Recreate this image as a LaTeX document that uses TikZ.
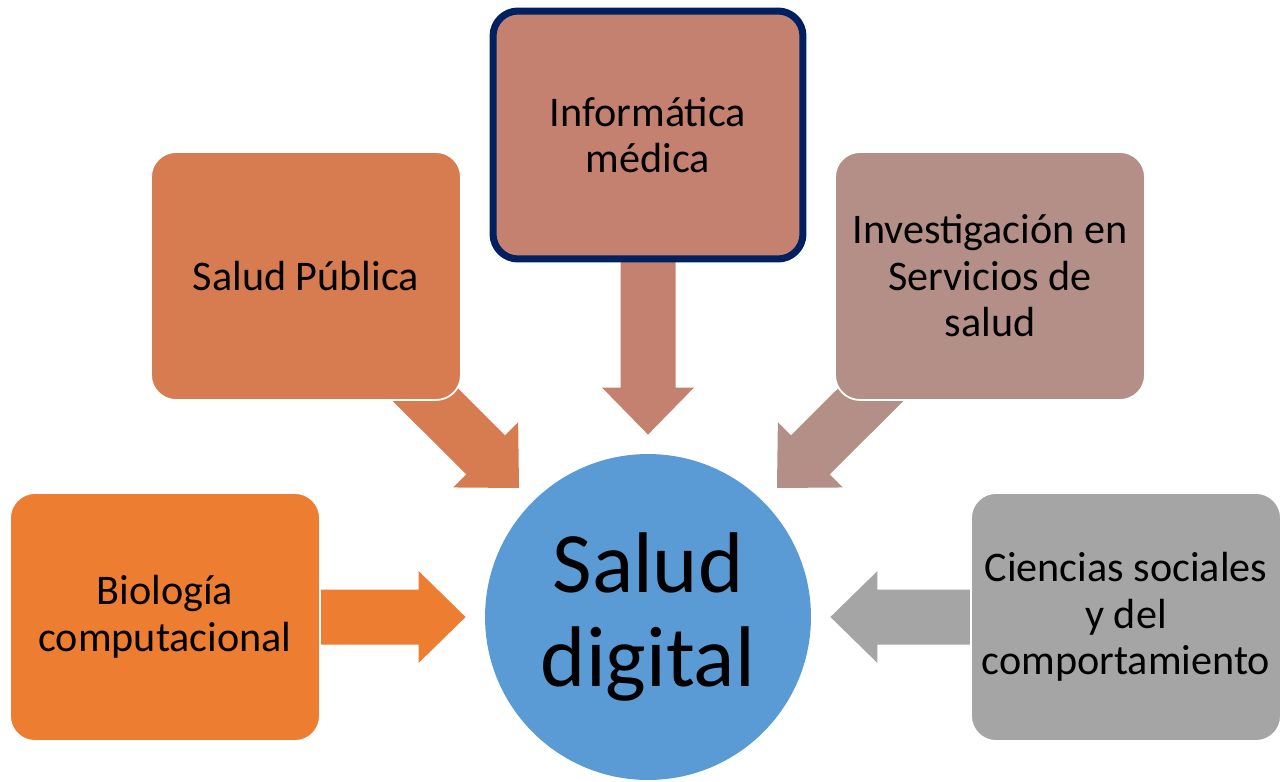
\documentclass[tikz,border=0pt]{standalone}
\usepackage{fontspec}
\setmainfont{Carlito}
\usetikzlibrary{calc,backgrounds}

\definecolor{bioorange}{HTML}{ED7D31}
\definecolor{puborange}{HTML}{D77B51}
\definecolor{infrose}{HTML}{C4816F}
\definecolor{invtaupe}{HTML}{B48F87}
\definecolor{socgray}{HTML}{A5A5A5}
\definecolor{digblue}{HTML}{5B9BD5}
\definecolor{navyline}{HTML}{002060}

% block arrow: colour, tail, tip
\newcommand{\blockarrow}[3]{%
  \coordinate (hb) at ($(#3)!0.94cm!(#2)$);
  \fill[#1] ($(#2)!0.55cm!90:(#3)$) -- ($(hb)!0.55cm!90:(#3)$) -- ($(hb)!0.92cm!90:(#3)$) -- (#3)
    -- ($(hb)!0.92cm!-90:(#3)$) -- ($(hb)!0.55cm!-90:(#3)$) -- ($(#2)!0.55cm!-90:(#3)$) -- cycle;}

\begin{document}
\begin{tikzpicture}[x=0.02cm,y=-0.02cm,
	area/.style={rectangle,rounded corners=0.5cm,minimum width=6.2cm,minimum height=4.96cm,
		draw=white,line width=1pt,align=center,inner sep=0pt,font=\fontsize{24}{26.5}\selectfont}]
		\useasboundingbox (0,0) rectangle (1281,781);
		\node[area,fill=bioorange] (bio) at (165,617) {Biología\\computacional};
		\node[area,fill=puborange] (pub) at (306,276) {Salud Pública};
		\node[area,fill=infrose,draw=navyline,line width=4pt] (inf) at (648,135) {Informática\\médica};
		\node[area,fill=invtaupe] (inv) at (990,276) {Investigación en\\Servicios de\\salud};
		\node[area,fill=socgray] (soc) at (1126,617) {Ciencias sociales\\y del\\comportamiento};
		\node[circle,fill=digblue,minimum size=6.52cm,inner sep=0pt,align=center,
			font=\fontsize{49}{53}\selectfont] (dig) at (648,617) {Salud\\digital};
		\begin{scope}[on background layer]
			\coordinate (tbio) at ($(dig.center)!1.117!(dig.180)$);
			\coordinate (tpub) at ($(dig.center)!1.117!(dig.135)$);
			\coordinate (tinf) at ($(dig.center)!1.117!(dig.90)$);
			\coordinate (tinv) at ($(dig.center)!1.117!(dig.45)$);
			\coordinate (tsoc) at ($(dig.center)!1.117!(dig.0)$);
			\blockarrow{bioorange}{bio.center}{tbio}
			\blockarrow{puborange}{pub.center}{tpub}
			\blockarrow{infrose}{inf.center}{tinf}
			\blockarrow{invtaupe}{inv.center}{tinv}
			\blockarrow{socgray}{soc.center}{tsoc}
		\end{scope}
	\end{tikzpicture}
\end{document}
